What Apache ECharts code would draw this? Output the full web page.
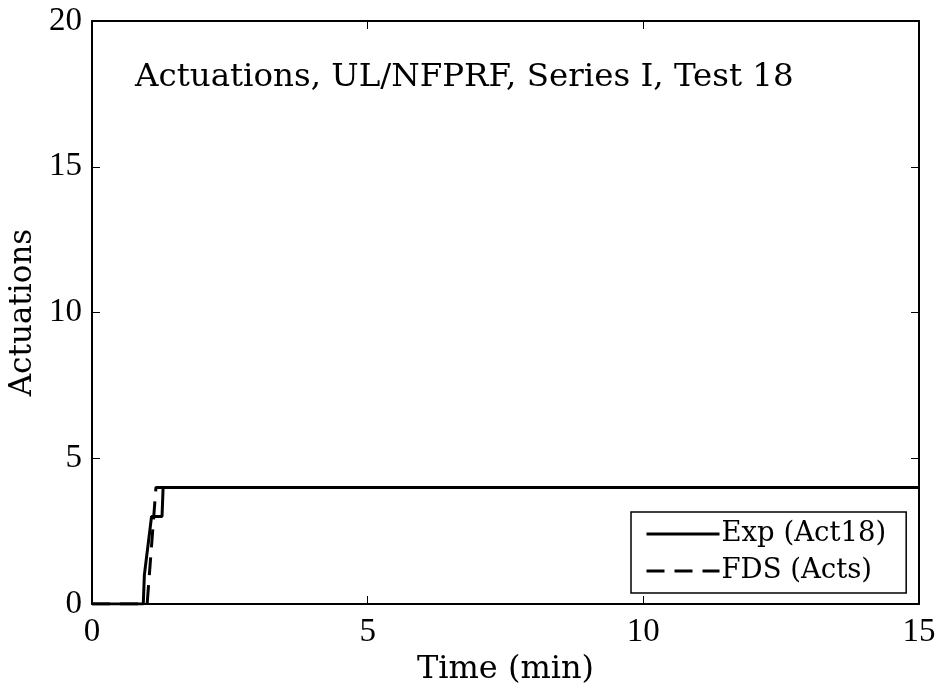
<!DOCTYPE html>
<html>
<head>
<meta charset="utf-8">
<script src="https://cdn.jsdelivr.net/npm/echarts@6/dist/echarts.min.js"></script>
<style>
  html, body { margin: 0; padding: 0; background: #fff; }
  #chart { width: 941px; height: 691px; }
</style>
</head>
<body>
<div id="chart"></div>
<script>
// Sprinkler actuation counts versus time (minutes)
const expTime = [0, 0.93, 0.95, 0.97, 1.08, 1.27, 1.29, 15];
const expActs = [0, 0, 1, 1, 3, 3, 4, 4];
const fdsTime = [0, 1.0, 1.16, 15];
const fdsActs = [0, 0, 4, 4];
const xTicks = [0, 5, 10, 15];
const yTicks = [0, 5, 10, 15, 20];

const TEXT_FONT = '"DejaVu Serif", serif';
const NUM_FONT = '"Liberation Serif", "Times New Roman", serif';

function pairs(xs, ys) { return xs.map((x, i) => [x, ys[i]]); }

const chart = echarts.init(document.getElementById('chart'), null, { renderer: 'canvas' });

const tickStyle = { show: true, inside: true, length: 8, lineStyle: { color: '#000', width: 1 } };
const axisLineStyle = { show: true, onZero: false, lineStyle: { color: '#000', width: 2 } };

chart.setOption({
  animation: false,
  backgroundColor: '#fff',
  title: {
    text: 'Actuations, UL/NFPRF, Series I, Test 18',
    left: 130, top: 56,
    textStyle: { fontFamily: TEXT_FONT, fontSize: 32.5, fontWeight: 'normal', color: '#000' }
  },
  grid: { left: 92, top: 21, width: 827, height: 583, containLabel: false, outerBoundsMode: 'none' },
  legend: {
    left: 631, top: 512,
    orient: 'vertical',
    itemWidth: 73, itemHeight: 14, itemGap: 9,
    padding: [8, 20, 8, 14],
    borderColor: '#000', borderWidth: 1.5,
    backgroundColor: '#fff',
    itemStyle: { opacity: 0 },
    lineStyle: { width: 3 },
    textStyle: { fontFamily: TEXT_FONT, fontSize: 27.5, color: '#000', padding: [0, 0, 0, -3] },
    data: ['Exp (Act18)', 'FDS (Acts)']
  },
  xAxis: [
    {
      type: 'value', position: 'bottom', min: 0, max: 15, interval: 5,
      name: 'Time (min)', nameLocation: 'middle', nameGap: 50,
      nameTextStyle: { fontFamily: TEXT_FONT, fontSize: 32, color: '#000' },
      axisLine: axisLineStyle, axisTick: tickStyle, splitLine: { show: false },
      axisLabel: { fontFamily: NUM_FONT, fontSize: 33, color: '#000', margin: 12,
        formatter: v => xTicks.includes(v) ? String(v) : '' }
    },
    {
      type: 'value', position: 'top', min: 0, max: 15, interval: 5,
      axisLine: axisLineStyle, axisTick: tickStyle, splitLine: { show: false },
      axisLabel: { show: false }
    }
  ],
  yAxis: [
    {
      type: 'value', position: 'left', min: 0, max: 20, interval: 5,
      name: 'Actuations', nameLocation: 'middle', nameGap: 52, nameRotate: 90,
      nameTextStyle: { fontFamily: TEXT_FONT, fontSize: 31, color: '#000' },
      axisLine: axisLineStyle, axisTick: tickStyle, splitLine: { show: false },
      axisLabel: { fontFamily: NUM_FONT, fontSize: 33, color: '#000', margin: 10,
        formatter: v => yTicks.includes(v) ? String(v) : '' }
    },
    {
      type: 'value', position: 'right', min: 0, max: 20, interval: 5,
      axisLine: axisLineStyle, axisTick: tickStyle, splitLine: { show: false },
      axisLabel: { show: false }
    }
  ],
  series: [
    {
      name: 'Exp (Act18)', type: 'line', showSymbol: false, symbol: 'none',
      data: pairs(expTime, expActs),
      lineStyle: { color: '#000', width: 3, type: 'solid' },
      itemStyle: { color: '#000' }, z: 3
    },
    {
      name: 'FDS (Acts)', type: 'line', showSymbol: false, symbol: 'none',
      data: pairs(fdsTime, fdsActs),
      lineStyle: { color: '#000', width: 3, type: [18, 10] },
      itemStyle: { color: '#000' }, z: 2
    }
  ]
});
</script>
</body>
</html>
